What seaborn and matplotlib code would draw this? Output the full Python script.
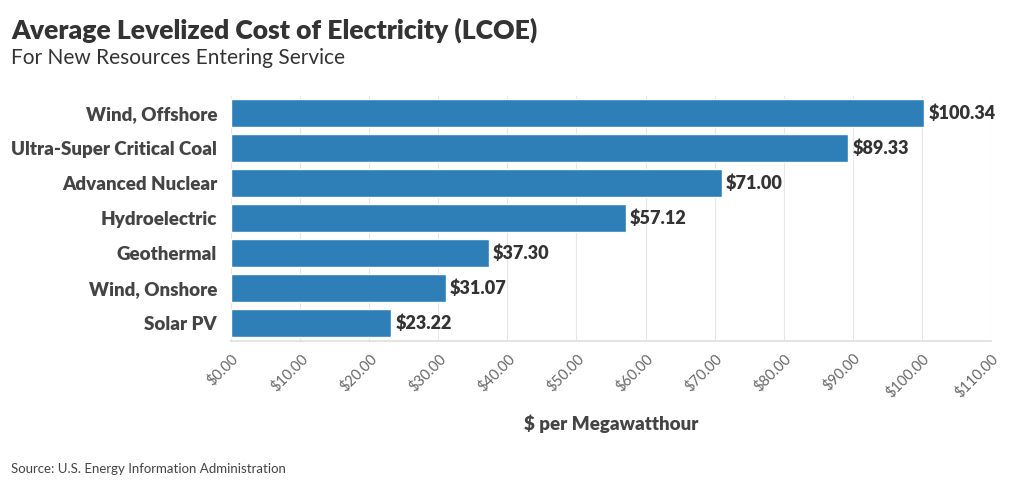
import matplotlib
matplotlib.use("Agg")
import matplotlib.pyplot as plt
import seaborn as sns
import pandas as pd
from matplotlib.ticker import FuncFormatter, MultipleLocator

categories = ["Wind, Offshore", "Ultra-Super Critical Coal", "Advanced Nuclear",
              "Hydroelectric", "Geothermal", "Wind, Onshore", "Solar PV"]
values = [100.34, 89.33, 71.00, 57.12, 37.30, 31.07, 23.22]

sns.set_theme(style="white")
plt.rcParams['font.family'] = ['Lato', 'DejaVu Sans']

df = pd.DataFrame({"cat": categories, "val": values})

fig = plt.figure(figsize=(10.2, 4.88), dpi=100)
ax = fig.add_axes([231/1020, 1 - 340.5/488, (991-231)/1020, (340.5-95.5)/488])

sns.barplot(data=df, x="val", y="cat", order=categories, color="#2e7fb8",
            saturation=1, width=0.8, ax=ax, zorder=3)

ax.set_xlim(0, 110)
ax.set_ylim(6.5, -0.5)
ax.xaxis.set_major_locator(MultipleLocator(10))
ax.xaxis.set_major_formatter(FuncFormatter(lambda v, p: f"${v:.2f}"))
ax.grid(axis="x", color="#e6e6e6", linewidth=0.8, zorder=0)
for s in ["top", "right", "left"]:
    ax.spines[s].set_visible(False)
ax.spines["bottom"].set_color("#e0e0e0")
ax.tick_params(axis="x", colors="#e0e0e0", length=4, labelcolor="#666666", labelsize=10.5)
ax.tick_params(axis="y", length=0, labelcolor="#444444", labelsize=13.5, pad=10)
for lbl in ax.get_yticklabels():
    lbl.set_fontweight("heavy")
plt.setp(ax.get_xticklabels(), rotation=45, ha="right", rotation_mode="anchor")

ax.set_ylabel("")
ax.set_xlabel("$ per Megawatthour", fontsize=13.5, fontweight="heavy", color="#444444", labelpad=11)

for i, v in enumerate(values):
    ax.text(v + 0.6, i, f"${v:.2f}", va="center", ha="left", fontsize=13,
            fontweight="heavy", color="#333333", zorder=4)

fig.text(11/1020, 1 - 30/488, "Average Levelized Cost of Electricity (LCOE)",
         fontsize=19.1, fontweight="heavy", color="#333333", va="center", ha="left")
fig.text(11/1020, 1 - 58/488, "For New Resources Entering Service",
         fontsize=15, color="#333333", va="center", ha="left")
fig.text(11/1020, 1 - 469/488, "Source: U.S. Energy Information Administration",
         fontsize=9.5, color="#444444", va="center", ha="left")

fig.savefig("out.png", dpi=100)
